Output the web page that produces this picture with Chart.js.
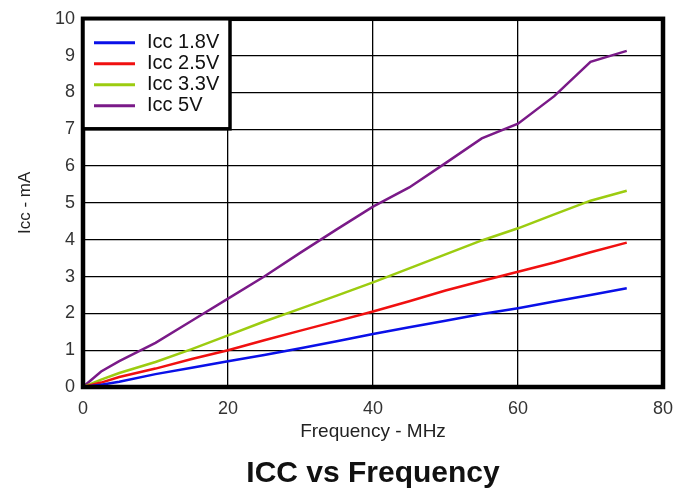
<!DOCTYPE html>
<html>
<head>
<meta charset="utf-8">
<script src="https://cdn.jsdelivr.net/npm/chart.js@4/dist/chart.umd.min.js"></script>
<style>
  html, body { margin: 0; padding: 0; background: #fff; }
  #wrap { width: 675px; height: 492px; }
</style>
</head>
<body>
<div id="wrap"><canvas id="iccChart"></canvas></div>
<script>
// Frequency (MHz) sample points
const freqMHz = [0, 2.5, 5, 10, 15, 20, 25, 30, 35, 40, 45, 50, 55, 60, 65, 70, 75];

// Supply current (mA) for each supply voltage
const icc18 = [0, 0.06, 0.14, 0.35, 0.52, 0.70, 0.87, 1.05, 1.24, 1.44, 1.62, 1.80, 1.98, 2.14, 2.32, 2.50, 2.68];
const icc25 = [0, 0.12, 0.27, 0.50, 0.76, 1.00, 1.27, 1.53, 1.79, 2.05, 2.33, 2.62, 2.88, 3.13, 3.38, 3.66, 3.92];
const icc33 = [0, 0.20, 0.38, 0.68, 1.03, 1.40, 1.78, 2.13, 2.48, 2.84, 3.22, 3.60, 3.98, 4.31, 4.69, 5.06, 5.33];
const icc50 = [0, 0.42, 0.70, 1.20, 1.80, 2.40, 3.00, 3.65, 4.28, 4.90, 5.42, 6.08, 6.75, 7.15, 7.90, 8.83, 9.13];

const seriesLabels = ['Icc 1.8V', 'Icc 2.5V', 'Icc 3.3V', 'Icc 5V'];
const seriesColors = ['#0a10e8', '#f01010', '#9ccc10', '#7a1a88'];

const xTicks = [0, 20, 40, 60, 80];
const yMax = 10;

const toPoints = (vals) => vals.map((v, i) => ({ x: freqMHz[i], y: v }));

const FONT = '"Liberation Sans", Arial, sans-serif';

// thick frame round the plot + legend box in the upper left corner
const frameAndLegend = {
    id: 'frameAndLegend',
    afterDatasetsDraw(chart) {
        const { ctx, chartArea: a } = chart;
        ctx.save();
        ctx.strokeStyle = '#000';
        ctx.lineWidth = 4.5;
        ctx.strokeRect(a.left, a.top, a.right - a.left, a.bottom - a.top);

        // legend
        const bx = a.left, by = a.top, bw = 147, bh = 110;
        ctx.fillStyle = '#fff';
        ctx.fillRect(bx, by, bw, bh);
        ctx.lineWidth = 3.5;
        ctx.strokeRect(bx, by, bw, bh);

        ctx.font = '20px ' + FONT;
        ctx.textBaseline = 'middle';
        ctx.textAlign = 'left';
        chart.data.datasets.forEach((ds, i) => {
            const yy = by + 24 + i * 21;
            ctx.strokeStyle = ds.borderColor;
            ctx.lineWidth = 3;
            ctx.beginPath();
            ctx.moveTo(bx + 11, yy);
            ctx.lineTo(bx + 52, yy);
            ctx.stroke();
            ctx.fillStyle = '#111';
            ctx.fillText(ds.label, bx + 64, yy);
        });
        ctx.restore();
    }
};

const ctx = document.getElementById('iccChart').getContext('2d');
const iccChart = new Chart(ctx, {
    type: 'line',
    data: {
        datasets: [icc18, icc25, icc33, icc50].map((vals, i) => ({
            label: seriesLabels[i],
            data: toPoints(vals),
            borderColor: seriesColors[i],
            borderWidth: 2.5,
            pointRadius: 0,
            fill: false,
            tension: 0
        }))
    },
    options: {
        responsive: true,
        maintainAspectRatio: false,
        animation: false,
        layout: { padding: { top: 16, right: 12, left: 0, bottom: 0 } },
        plugins: {
            legend: { display: false },
            tooltip: { enabled: false },
            title: {
                display: true,
                position: 'bottom',
                fullSize: false,
                text: 'ICC vs Frequency',
                color: '#111',
                font: { family: FONT, size: 30, weight: 'bold' },
                padding: { top: 0, bottom: 0 }
            }
        },
        scales: {
            x: {
                type: 'linear',
                min: 0,
                max: 80,
                afterFit: (s) => { s.height = 69; s.paddingRight = 0; s.paddingLeft = 0; },
                afterBuildTicks: (s) => { s.ticks = xTicks.map(v => ({ value: v })); },
                ticks: { color: '#333', font: { family: FONT, size: 18 }, padding: 11 },
                grid: { color: '#000', lineWidth: 1.3, drawTicks: false },
                border: { display: false },
                title: {
                    display: true,
                    text: 'Frequency - MHz',
                    color: '#222',
                    font: { family: FONT, size: 19 },
                    padding: { top: 0, bottom: 13 }
                }
            },
            y: {
                min: 0,
                max: yMax,
                afterFit: (s) => { s.width = 83; },
                ticks: { stepSize: 1, color: '#333', font: { family: FONT, size: 18 }, padding: 8 },
                grid: { color: '#000', lineWidth: 1.3, drawTicks: false },
                border: { display: false },
                title: {
                    display: true,
                    text: 'Icc - mA',
                    color: '#222',
                    font: { family: FONT, size: 17 },
                    padding: { top: 15, bottom: 0 }
                }
            }
        }
    },
    plugins: [frameAndLegend]
});
</script>
</body>
</html>
